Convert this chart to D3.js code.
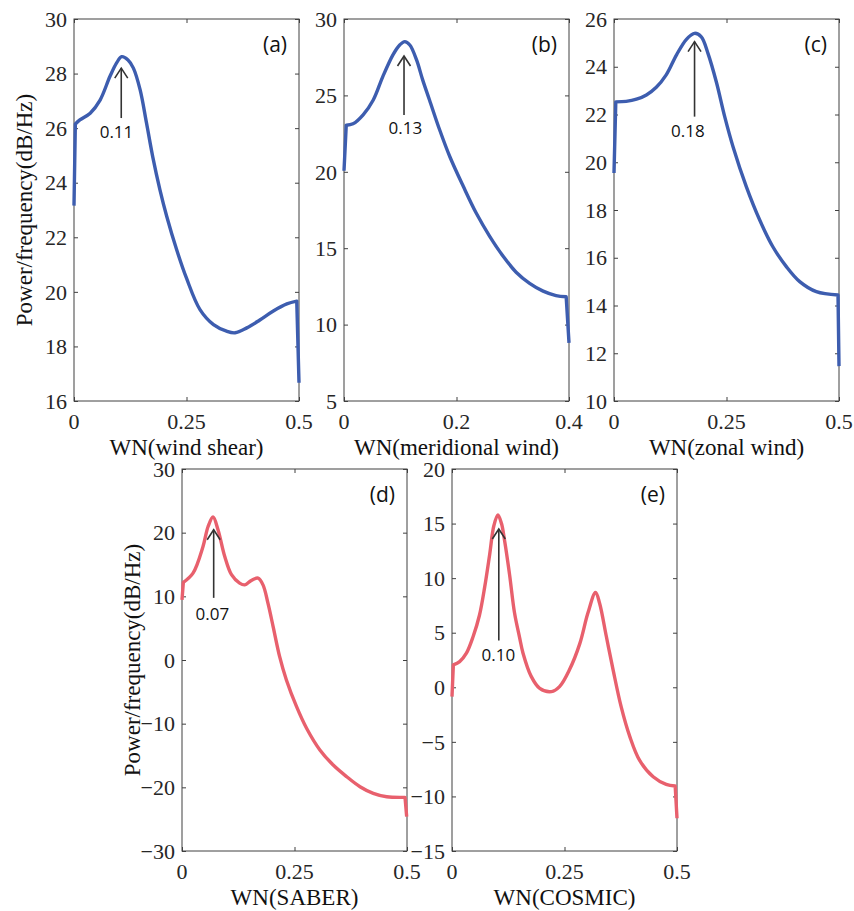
<!DOCTYPE html>
<html>
<head>
<meta charset="utf-8">
<script src="https://cdn.jsdelivr.net/npm/d3@7"></script>
<style>
    body { margin: 0; background: #fff; }
</style>
</head>
<body>
<div id="chart"></div>
<script>
// values
const panelNames = ["(a)", "(b)", "(c)", "(d)", "(e)"];
const xLabels = ["WN(wind shear)", "WN(meridional wind)", "WN(zonal wind)", "WN(SABER)", "WN(COSMIC)"];
const yDomains = [[16, 30], [5, 30], [10, 26], [-30, 30], [-15, 20]];
const yTicks = [
    [16, 18, 20, 22, 24, 26, 28, 30],
    [5, 10, 15, 20, 25, 30],
    [10, 12, 14, 16, 18, 20, 22, 24, 26],
    [-30, -20, -10, 0, 10, 20, 30],
    [-15, -10, -5, 0, 5, 10, 15, 20]
];
const xMax = [0.5, 0.4, 0.5, 0.5, 0.5];
const xTicks = [[0, 0.25, 0.5], [0, 0.2, 0.4], [0, 0.25, 0.5], [0, 0.25, 0.5], [0, 0.25, 0.5]];

const shearWN = [0, 0.003, 0.013, 0.036, 0.058, 0.08, 0.095, 0.106, 0.12, 0.132, 0.147, 0.161, 0.175, 0.191, 0.206, 0.228, 0.25, 0.28, 0.31, 0.339, 0.358, 0.384, 0.413, 0.443, 0.473, 0.495, 0.5];
const shearPSD = [23.16, 26.15, 26.3, 26.55, 27.03, 27.9, 28.4, 28.62, 28.5, 28.2, 27.4, 26.2, 24.95, 23.74, 22.77, 21.55, 20.5, 19.35, 18.8, 18.56, 18.5, 18.68, 18.97, 19.3, 19.56, 19.66, 16.67];

const meridWN = [0, 0.004, 0.016, 0.034, 0.052, 0.069, 0.087, 0.099, 0.108, 0.117, 0.129, 0.14, 0.152, 0.17, 0.188, 0.212, 0.235, 0.259, 0.283, 0.306, 0.33, 0.354, 0.377, 0.395, 0.4];
const meridPSD = [20.07, 23.05, 23.14, 23.73, 24.7, 26.23, 27.65, 28.3, 28.52, 28.3, 27.32, 26.0, 24.7, 22.75, 21.0, 19.05, 17.3, 15.78, 14.47, 13.43, 12.7, 12.19, 11.9, 11.82, 8.81];

const zonalWN = [0, 0.004, 0.027, 0.05, 0.072, 0.094, 0.116, 0.139, 0.161, 0.179, 0.194, 0.209, 0.2276, 0.246, 0.2645, 0.294, 0.3238, 0.353, 0.383, 0.4127, 0.4496, 0.4978, 0.5];
const zonalPSD = [19.55, 22.53, 22.55, 22.64, 22.82, 23.14, 23.66, 24.5, 25.15, 25.4, 25.25, 24.55, 23.35, 21.91, 20.65, 18.98, 17.58, 16.46, 15.63, 15.0, 14.58, 14.44, 11.46];

const saberWN = [0, 0.003, 0.0245, 0.0467, 0.058, 0.069, 0.08, 0.095, 0.11, 0.128, 0.1395, 0.154, 0.169, 0.18, 0.191, 0.2025, 0.217, 0.232, 0.2546, 0.2768, 0.3064, 0.336, 0.366, 0.3955, 0.425, 0.455, 0.4956, 0.4993];
const saberPSD = [9.45, 12.2, 13.65, 17.83, 20.97, 22.45, 20.46, 16.26, 13.4, 12.08, 11.8, 12.49, 12.86, 11.8, 8.93, 5.25, 0.53, -3.13, -7.33, -10.72, -14.13, -16.5, -18.33, -19.9, -20.94, -21.48, -21.57, -24.6];

const cosmicWN = [0, 0.003, 0.017, 0.032, 0.047, 0.061, 0.0727, 0.0838, 0.093, 0.102, 0.11, 0.117, 0.128, 0.139, 0.15, 0.158, 0.176, 0.195, 0.221, 0.239, 0.261, 0.284, 0.302, 0.319, 0.328, 0.343, 0.358, 0.376, 0.395, 0.417, 0.447, 0.476, 0.496, 0.5];
const cosmicPSD = [-0.85, 2.05, 2.35, 3.12, 4.65, 6.6, 9.2, 12.2, 14.8, 15.8, 15.0, 13.4, 10.3, 6.8, 4.6, 3.1, 1.0, -0.1, -0.4, 0.06, 1.6, 4.0, 6.8, 8.69, 7.7, 4.65, 1.6, -1.8, -4.5, -6.7, -8.2, -8.9, -9.05, -12.0];

const seriesWN = [shearWN, meridWN, zonalWN, saberWN, cosmicWN];
const seriesPSD = [shearPSD, meridPSD, zonalPSD, saberPSD, cosmicPSD];

// peak arrows: arrow x, tip y, tail y, label x, label baseline y (data units)
const peakArrowX = [0.105, 0.1067, 0.179, 0.0704, 0.104];
const peakTipY = [28.2, 27.58, 25.05, 20.46, 14.5];
const peakTailY = [26.37, 23.72, 21.91, 9.76, 4.28];
const peakLabelX = [0.0944, 0.109, 0.164, 0.0676, 0.103];
const peakLabelY = [25.64, 22.47, 21.07, 6.3, 2.45];
const peakLabels = ["0.11", "0.13", "0.18", "0.07", "0.10"];

// layout
const W = 854, H = 911;
const plotW = 225, plotH = 382;
const origins = [[74, 19], [344, 19], [614, 19], [182, 469], [452, 469]];
const lineColors = ["#3d5daf", "#3d5daf", "#3d5daf", "#e8606d", "#e8606d"];
const serif = "'Liberation Serif', 'Times New Roman', serif";
const sans = "'Open Sans', 'Noto Sans', sans-serif";

let svg = d3.select("#chart").append("svg")
    .attr("width", W)
    .attr("height", H);

function fmtTick(d) {
    return String(d).replace("-", "\u2212");
}

function drawPanel(i) {
    let g = svg.append("g")
        .attr("transform", "translate(" + origins[i][0] + "," + origins[i][1] + ")");

    let x = d3.scaleLinear().domain([0, xMax[i]]).range([0, plotW]);
    let y = d3.scaleLinear().domain(yDomains[i]).range([plotH, 0]);

    // box with inward ticks on all sides
    let tickLen = 4;
    let axisColor = "#404040";
    let axes = [
        d3.axisBottom(x).tickValues(xTicks[i]).tickSize(tickLen).tickFormat(""),
        d3.axisTop(x).tickValues(xTicks[i]).tickSize(tickLen).tickFormat(""),
        d3.axisLeft(y).tickValues(yTicks[i]).tickSize(tickLen).tickFormat(""),
        d3.axisRight(y).tickValues(yTicks[i]).tickSize(tickLen).tickFormat("")
    ];
    let shifts = [[0, plotH - tickLen], [0, tickLen], [tickLen, 0], [plotW - tickLen, 0]];
    axes.forEach(function (ax, k) {
        let a = g.append("g")
            .attr("transform", "translate(" + shifts[k][0] + "," + shifts[k][1] + ")")
            .call(ax);
        a.select(".domain").remove();
        a.selectAll("line").attr("stroke", axisColor);
    });
    g.append("rect")
        .attr("width", plotW)
        .attr("height", plotH)
        .attr("fill", "none")
        .attr("stroke", axisColor)
        .attr("stroke-width", 1);

    // tick labels
    g.selectAll(".xt")
        .data(xTicks[i])
        .enter().append("text")
        .attr("x", d => x(d))
        .attr("y", plotH + 28)
        .attr("text-anchor", "middle")
        .style("font-family", serif)
        .style("font-size", "22px")
        .attr("fill", "#262626")
        .text(fmtTick);

    g.selectAll(".yt")
        .data(yTicks[i])
        .enter().append("text")
        .attr("x", -7)
        .attr("y", d => y(d))
        .attr("dy", "0.35em")
        .attr("text-anchor", "end")
        .style("font-family", serif)
        .style("font-size", "22px")
        .attr("fill", "#262626")
        .text(fmtTick);

    // x label
    g.append("text")
        .attr("x", plotW / 2)
        .attr("y", plotH + 54)
        .attr("text-anchor", "middle")
        .style("font-family", serif)
        .style("font-size", "23px")
        .attr("fill", "#111")
        .text(xLabels[i]);

    // spectrum: straight end segments, smooth middle
    let pts = seriesWN[i].map((wn, k) => [x(wn), y(seriesPSD[i][k])]);
    let n = pts.length;
    let smooth = d3.line().curve(d3.curveCatmullRom.alpha(0.5))(pts.slice(1, n - 1));
    let d = "M" + pts[0][0] + "," + pts[0][1] + smooth.replace(/^M/, "L") +
        "L" + pts[n - 1][0] + "," + pts[n - 1][1];

    g.append("path")
        .attr("d", d)
        .attr("fill", "none")
        .attr("stroke", lineColors[i])
        .attr("stroke-width", 3.4)
        .attr("stroke-linejoin", "round");

    // peak arrow
    let ax0 = x(peakArrowX[i]), tip = y(peakTipY[i]);
    g.append("line")
        .attr("x1", ax0).attr("x2", ax0)
        .attr("y1", y(peakTailY[i])).attr("y2", tip)
        .attr("stroke", "#333")
        .attr("stroke-width", 1.6);
    g.append("path")
        .attr("d", "M" + (ax0 - 6.5) + "," + (tip + 10) + "L" + ax0 + "," + tip + "L" + (ax0 + 6.5) + "," + (tip + 10))
        .attr("fill", "none")
        .attr("stroke", "#333")
        .attr("stroke-width", 1.6);

    g.append("text")
        .attr("x", x(peakLabelX[i]))
        .attr("y", y(peakLabelY[i]))
        .attr("text-anchor", "middle")
        .style("font-family", sans)
        .style("font-size", "17px")
        .attr("fill", "#111")
        .text(peakLabels[i]);

    // panel tag
    g.append("text")
        .attr("x", plotW - 12)
        .attr("y", 33)
        .attr("text-anchor", "end")
        .style("font-family", sans)
        .style("font-size", "21px")
        .attr("fill", "#111")
        .text(panelNames[i]);
}

for (let i = 0; i < 5; i++) {
    drawPanel(i);
}

// shared y labels
[origins[0], origins[3]].forEach(function (o) {
    svg.append("text")
        .attr("transform", "translate(" + (o[0] - 42) + "," + (o[1] + plotH / 2) + ") rotate(-90)")
        .attr("text-anchor", "middle")
        .style("font-family", serif)
        .style("font-size", "23px")
        .attr("fill", "#111")
        .text("Power/frequency(dB/Hz)");
});
</script>
</body>
</html>
